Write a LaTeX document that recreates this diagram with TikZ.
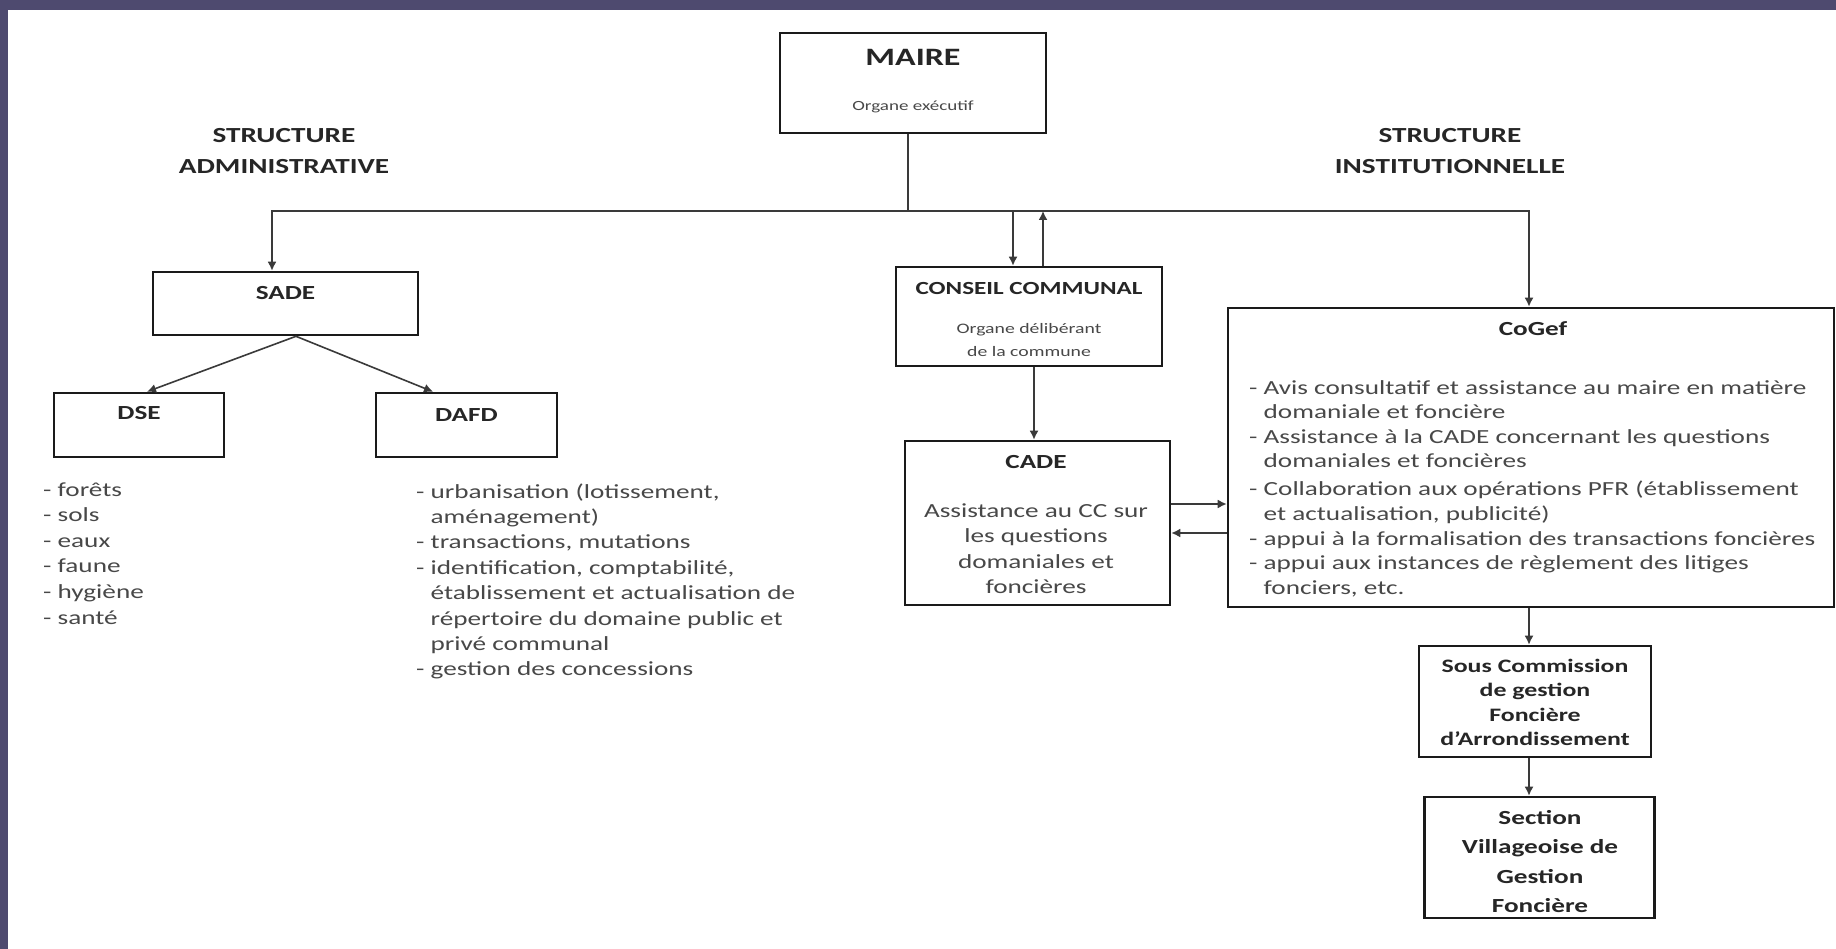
\documentclass[tikz,border=0pt]{standalone}
\usepackage{fontspec}
\setmainfont{Carlito}[FakeStretch=1.36]
\usetikzlibrary{arrows.meta}
\definecolor{slideframe}{HTML}{4E4A6F}
\definecolor{boxline}{HTML}{1A1A1A}
\definecolor{wire}{HTML}{3A3A3A}
\definecolor{inkdark}{HTML}{262626}
\definecolor{inkbody}{HTML}{484848}

\begin{document}
\begin{tikzpicture}[
    x=1pt, y=-1pt,
    box/.style 2 args={rectangle, draw=boxline, line width=2.6pt, inner sep=0pt, minimum width=#1, minimum height=#2},
    ttl/.style={anchor=base, inner sep=0pt, text=inkdark, font=\bfseries\fontsize{20}{24}\selectfont},
    hdr/.style={ttl, font=\bfseries\fontsize{21.5}{26}\selectfont},
    note/.style={anchor=base, inner sep=0pt, text=inkbody, font=\fontsize{14}{17}\selectfont},
    body/.style={anchor=base, inner sep=0pt, text=inkbody, font=\fontsize{20}{24}\selectfont},
    item/.style={body, anchor=base west},
    link/.style={draw=wire, line width=1.6pt},
    arr/.style={link, -{Latex[length=9pt,width=9pt]}}
]
    \useasboundingbox (0,0) rectangle (1836,949);
    \fill[slideframe] (0,0) rectangle (1836,949);
    \fill[white] (8,10) rectangle (1836,949);

    \node[box={266pt}{100pt}] (maire) at (913,83) {};
    \node[ttl, font=\bfseries\fontsize{25}{30}\selectfont] (mairettl) at (913,66) {MAIRE};
    \node[note] (mairenote) at (913,111) {Organe exécutif};

    \foreach \y/\txt [count=\i] in {142.5/STRUCTURE, 173.5/ADMINISTRATIVE}
        \node[hdr] (adm\i) at (284,\y) {\txt};
    \foreach \y/\txt [count=\i] in {142.5/STRUCTURE, 173.5/INSTITUTIONNELLE}
        \node[hdr] (inst\i) at (1450,\y) {\txt};

    \node[box={265pt}{63pt}] (sade) at (285.5,303.5) {};
    \node[ttl] (sadettl) at (285.5,299.5) {SADE};
    \node[box={170pt}{64pt}] (dse) at (139,425) {};
    \node[ttl] (dsettl) at (139,419.5) {DSE};
    \node[box={181pt}{64pt}] (dafd) at (466.5,425) {};
    \node[ttl] (dafdttl) at (466.5,421) {DAFD};

    \foreach \txt [count=\i] in {forêts, sols, eaux, faune, hygiène, santé}
        \node[item] (dseitem\i) at (43,{496+25.6*(\i-1)}) {- \txt};
    \foreach \txt [count=\i] in {{- urbanisation (lotissement,}, \phantom{- }aménagement), {- transactions, mutations},
        {- identification, comptabilité,}, \phantom{- }établissement et actualisation de,
        \phantom{- }répertoire du domaine public et, \phantom{- }privé communal, - gestion des concessions}
        \node[item] (dafditem\i) at (416,{498+25.4*(\i-1)}) {\txt};

    \node[box={266pt}{99pt}] (cc) at (1029,316.5) {};
    \node[ttl, font=\bfseries\fontsize{18.5}{22}\selectfont] (ccttl) at (1029,295) {CONSEIL COMMUNAL};
    \foreach \y/\txt [count=\i] in {334/Organe délibérant, 356/de la commune}
        \node[note, font=\fontsize{14.5}{17}\selectfont] (ccnote\i) at (1029,\y) {\txt};

    \node[box={265pt}{164pt}] (cade) at (1037.5,523) {};
    \node[ttl] (cadettl) at (1036,468.5) {CADE};
    \foreach \y/\txt [count=\i] in {517/Assistance au CC sur, 542/les questions, 568/domaniales et, 593/foncières}
        \node[body] (cadeitem\i) at (1036,\y) {\txt};

    \node[box={606pt}{299pt}] (cogef) at (1531,457.5) {};
    \node[ttl] (cogefttl) at (1533,335.5) {CoGef};
    \foreach \y/\txt [count=\i] in {394/- Avis consultatif et assistance au maire en matière,
        418/\phantom{- }domaniale et foncière, 443/- Assistance à la CADE concernant les questions,
        467/\phantom{- }domaniales et foncières, 495/- Collaboration aux opérations PFR (établissement,
        {520/\phantom{- }et actualisation, publicité)}, 545/- appui à la formalisation des transactions foncières,
        569/- appui aux instances de règlement des litiges, {594/\phantom{- }fonciers, etc.}}
        \node[item] (cogefitem\i) at (1249,\y) {\txt};

    \node[box={232pt}{111pt}] (souscom) at (1535,701.5) {};
    \foreach \y/\txt [count=\i] in {672/Sous Commission, 696.5/de gestion, 721/Foncière, 745.5/d’Arrondissement}
        \node[ttl, font=\bfseries\fontsize{19}{23}\selectfont] (souscom\i) at (1535,\y) {\txt};

    \node[box={230pt}{121pt}] (svgf) at (1539.5,857.5) {};
    \foreach \y/\txt [count=\i] in {824/Section, 853.5/Villageoise de, 883/Gestion, 912/Foncière}
        \node[ttl] (svgf\i) at (1540,\y) {\txt};

    \coordinate (hub) at (908,211);
    \draw[link] (hub |- maire.south) -- (hub);
    \draw[arr] (hub) -| ([xshift=-13.5pt]sade.north);
    \draw[arr] (hub) -| ([xshift=-2pt]cogef.north);
    \coordinate (ccin) at ([xshift=-16pt]cc.north);
    \coordinate (ccout) at ([xshift=14pt]cc.north);
    \draw[arr] (ccin |- hub) -- (ccin);
    \draw[arr] (ccout) -- (ccout |- hub);
    \draw[arr] ([xshift=5pt]cc.south) -- ([xshift=-3.5pt]cade.north);
    \coordinate (cadeout) at ([yshift=19pt]cade.east);
    \coordinate (cadein) at ([yshift=-10pt]cade.east);
    \draw[arr] (cadeout) -- (cadeout -| cogef.west);
    \draw[arr] (cadein -| cogef.west) -- (cadein);
    \draw[arr] ([xshift=-2pt]cogef.south) -- ([xshift=-6pt]souscom.north);
    \draw[arr] ([xshift=-6pt]souscom.south) -- ([xshift=-10.5pt]svgf.north);
    \draw[arr] ([xshift=10.5pt]sade.south) -- ([xshift=8pt]dse.north);
    \draw[arr] ([xshift=10.5pt]sade.south) -- ([xshift=-33.5pt]dafd.north);
\end{tikzpicture}
\end{document}
